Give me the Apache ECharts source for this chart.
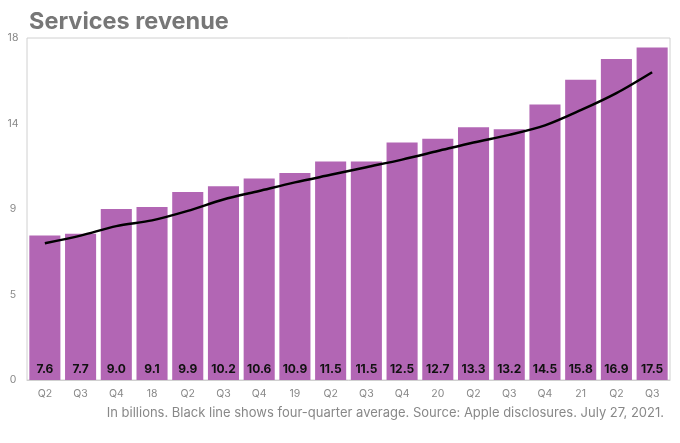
<!DOCTYPE html>
<html><head><meta charset="utf-8">
<script src="https://cdn.jsdelivr.net/npm/echarts@6/dist/echarts.min.js"></script>
<style>html,body{margin:0;padding:0;background:#fff}#c{width:680px;height:443px}</style>
</head><body><div id="c"></div>
<script>
const categories = ['Q2','Q3','Q4','18','Q2','Q3','Q4','19','Q2','Q3','Q4','20','Q2','Q3','Q4','21','Q2','Q3'];
const revenue = [7.6,7.7,9.0,9.1,9.9,10.2,10.6,10.9,11.5,11.5,12.5,12.7,13.3,13.2,14.5,15.8,16.9,17.5];
const fourQuarterAvg = [7.2,7.6,8.1,8.4,8.9,9.5,9.95,10.4,10.8,11.2,11.6,12.05,12.5,12.9,13.4,14.2,15.1,16.2];
const titleText = 'Services revenue';
const noteText = 'In billions. Black line shows four-quarter average. Source: Apple disclosures. July 27, 2021.';

const F = 'Inter';
const chart = echarts.init(document.getElementById('c'), null, {renderer:'canvas'});
chart.setOption({
  animation:false,
  backgroundColor:'#fff',
  title:[{text:titleText,left:24,top:5,textStyle:{fontFamily:F,fontWeight:'bold',fontSize:23.5,color:'#777'}},
         {text:noteText,right:11,top:402,textStyle:{fontFamily:F,fontWeight:'normal',fontSize:13,color:'#888'}}],
  grid:{left:27,right:10,top:38,bottom:63,show:true,borderColor:'#d0d0d0',borderWidth:1,backgroundColor:'transparent'},
  xAxis:{type:'category',data:categories,
    axisLine:{lineStyle:{color:'#d0d0d0'}},axisTick:{show:false},
    axisLabel:{color:'#888',fontFamily:F,fontSize:10.5,margin:8}},
  yAxis:{type:'value',min:0,max:18,interval:4.5,
    splitLine:{show:false},axisLine:{show:false},axisTick:{show:false},
    axisLabel:{color:'#888',fontFamily:F,fontSize:10.5,align:'center',margin:14,
      formatter:v=>String(Math.round(v))}},
  series:[
    {type:'bar',data:revenue,barCategoryGap:'13%',itemStyle:{color:'#b266b4'},
     label:{show:true,position:'insideBottom',distance:5,color:'#111',fontFamily:F,fontWeight:'bold',fontSize:12,
       formatter:p=>p.value.toFixed(1)}},
    {type:'line',data:fourQuarterAvg,smooth:0.3,symbol:'none',lineStyle:{color:'#000',width:2.5},z:5}
  ]
});
</script></body></html>
